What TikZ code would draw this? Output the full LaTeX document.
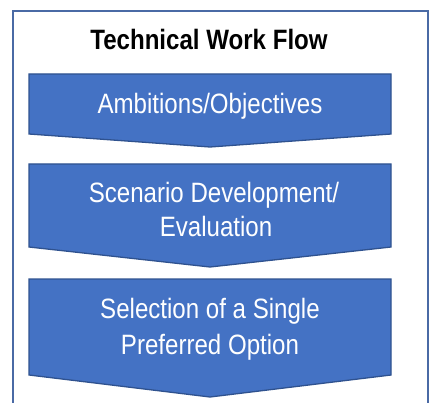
\documentclass[tikz,border=0pt]{standalone}
\usepackage{fontspec}
\setmainfont{Liberation Sans}
\definecolor{framecol}{HTML}{4A6AA5}
\definecolor{chevfill}{HTML}{4472C4}
\definecolor{chevline}{HTML}{2F528F}
\newcommand{\cond}[1]{\scalebox{0.86}[1]{#1}}
\begin{document}
\begin{tikzpicture}[x=1pt,y=-1pt,
  chev/.style={fill=chevfill,draw=chevline,line width=1.3pt,line join=miter},
  chevtext/.style={text=white,font=\fontsize{28}{34}\selectfont,anchor=base,inner sep=0pt},
  frame/.style={draw=framecol,line width=2pt}]
\useasboundingbox (0,0) rectangle (430,403);
\fill[white] (0,0) rectangle (430,403);
\draw[frame] (13,406) -- (13,11) -- (428,11) -- (428,406);
\node[font=\bfseries\fontsize{28}{32}\selectfont,inner sep=0pt,anchor=base] (title) at (209,50) {\cond{Technical Work Flow}};
% chevron 1
\draw[chev] (29,74) -- (391,74) -- (391,134) -- (210,147) -- (29,134) -- cycle;
\node[chevtext] (c1) at (210,114) {\cond{Ambitions/Objectives}};
% chevron 2
\draw[chev] (29,164) -- (391,164) -- (391,247) -- (210,267) -- (29,247) -- cycle;
\node[chevtext] (c2a) at (214,202) {\cond{Scenario Development/}};
\node[chevtext] (c2b) at (216,236) {\cond{Evaluation}};
% chevron 3
\draw[chev] (29,279) -- (391,279) -- (391,375) -- (210,397) -- (29,375) -- cycle;
\node[chevtext] (c3a) at (210,318) {\cond{Selection of a Single}};
\node[chevtext] (c3b) at (210,354) {\cond{Preferred Option}};
\end{tikzpicture}
\end{document}
